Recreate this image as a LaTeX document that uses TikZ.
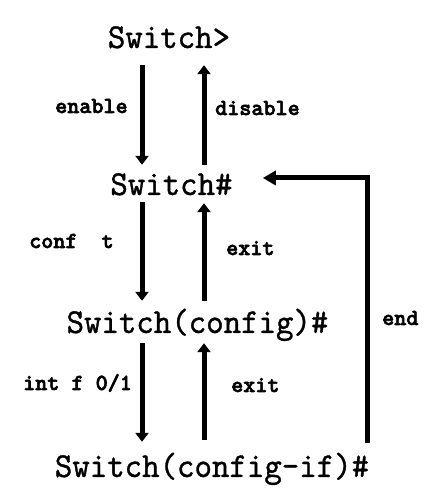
\documentclass[tikz,border=0pt]{standalone}
\usepackage{fontspec}
\usepackage{graphicx}
\newfontfamily\lblfont{lmmonolt10-bold.otf}[FakeBold=2.5]
\newfontfamily\promptfont{lmmono10-regular.otf}[FakeBold=1]
\usetikzlibrary{arrows.meta}
\tikzset{
  prompt/.style={inner sep=0pt, text height=22pt, text depth=0pt, anchor=base,
    font=\promptfont\fontsize{35}{35}\selectfont},
  lbl/.style={inner sep=0pt, anchor=base west, font=\lblfont\fontsize{23}{23}\selectfont},
  arr/.style={line width=5pt, -{Triangle[length=9pt,width=13pt]}},
  endarr/.style={line width=5pt, -{Triangle[length=13pt,width=14pt]}}
}
\newcommand{\sq}[1]{\scalebox{0.95}[1]{#1}}
\begin{document}
\begin{tikzpicture}[x=1pt,y=1pt]
\useasboundingbox[fill=white] (0,0) rectangle (447,495);
\coordinate (L) at (142,0);
\coordinate (R) at (204,0);
\coordinate (E) at (367,0);
\node[prompt] (s1) at (169,447) {\sq{Switch>}};
\node[prompt] (s2) at (171.5,300) {\sq{Switch\#}};
\node[prompt] (s3) at (197.5,162) {\sq{Switch(config)\#}};
\node[prompt] (s4) at (212,18) {\sq{Switch(config-if)\#}};
% arrows
\draw[arr, shorten <=17pt, shorten >=8pt] (s1.south -| L) -- (s2.north -| L);
\draw[arr, shorten <=8pt, shorten >=17pt] (s2.north -| R) -- (s1.south -| R);
\draw[arr, shorten <=7pt, shorten >=10pt] (s2.south -| L) -- (s3.north -| L);
\draw[arr, shorten <=10pt, shorten >=8pt] (s3.north -| R) -- (s2.south -| R);
\draw[arr, shorten <=10pt, shorten >=13pt] (s3.south -| L) -- (s4.north -| L);
\draw[arr, shorten <=15pt, shorten >=10pt] (s4.north -| R) -- (s3.south -| R);
\draw[endarr, shorten <=12pt, shorten >=30pt, line join=miter] (s4.north -| E) |- ([yshift=6pt]s2.east);
% labels
\node[lbl] (l1) at (55,382) {enable};
\node[lbl] (l2) at (215,380) {disable};
\node[lbl] (l3) at (29,247) {conf\ \ t};
\node[lbl] (l4) at (226,240) {exit};
\node[lbl] (l5) at (23,105) {int f 0/1};
\node[lbl] (l6) at (231,103) {exit};
\node[lbl] (l7) at (382,170) {end};
\end{tikzpicture}
\end{document}
